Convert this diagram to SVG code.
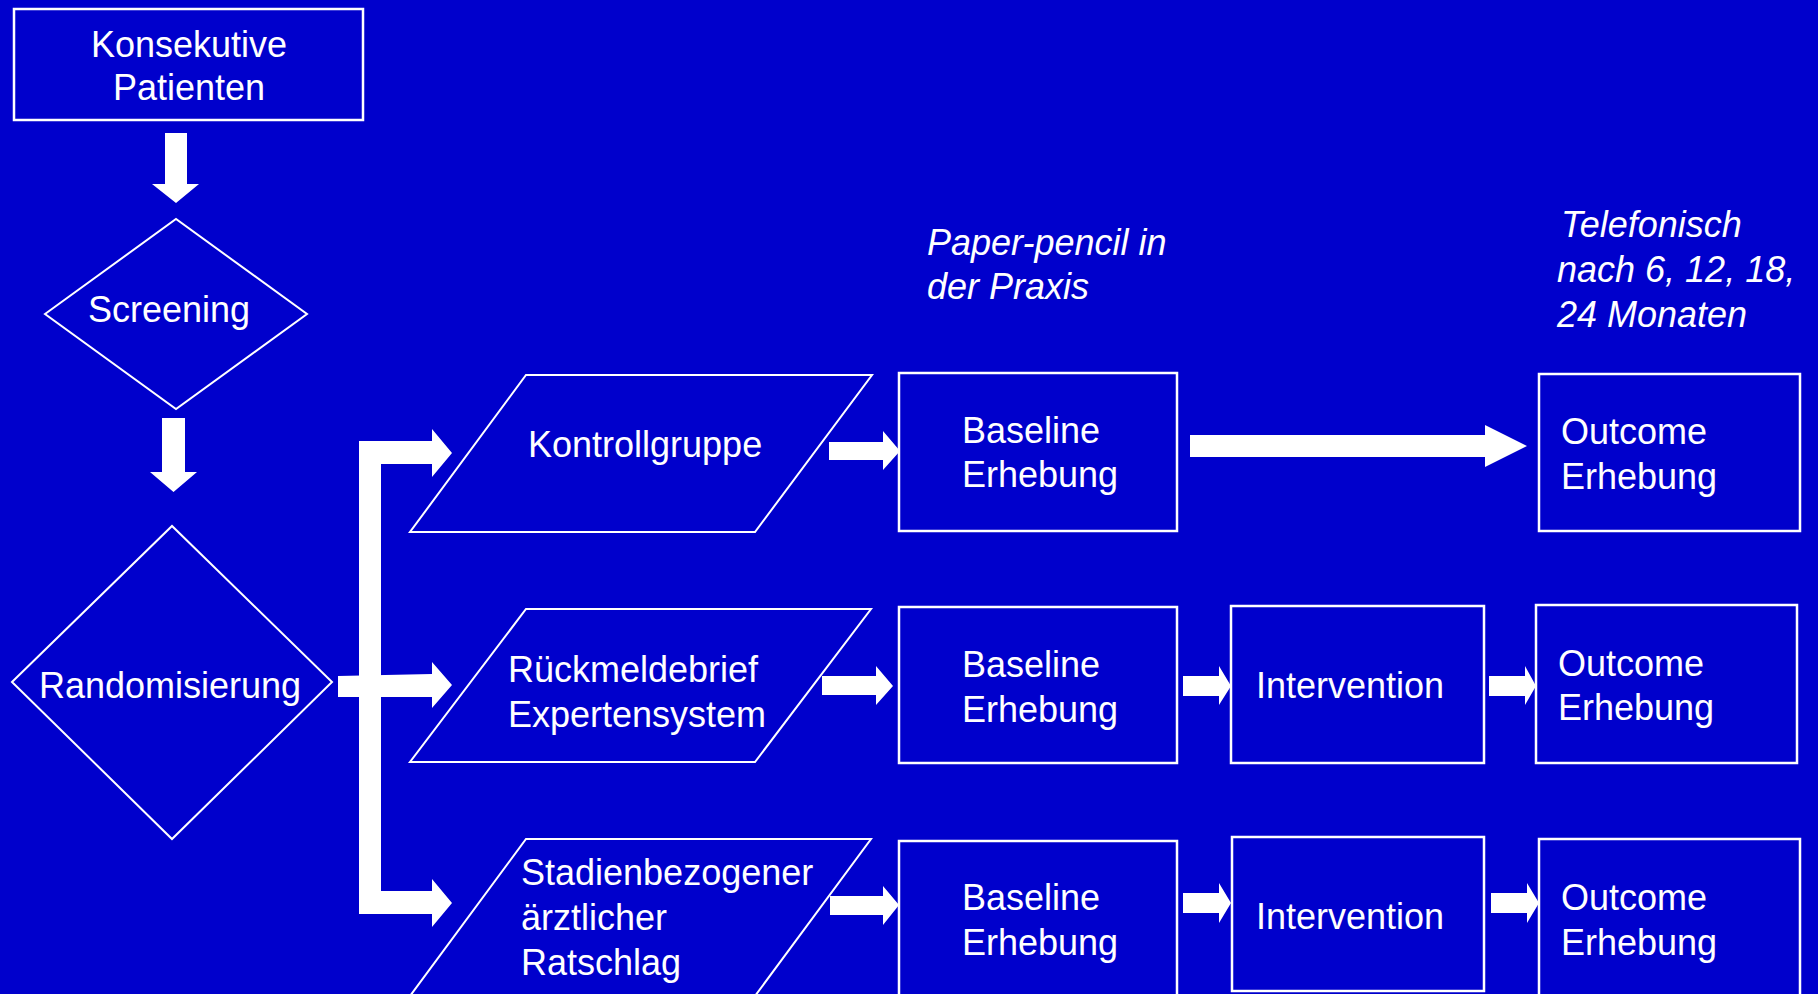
<svg xmlns="http://www.w3.org/2000/svg" width="1818" height="994" viewBox="0 0 1818 994">
<style>
.bg{fill:#0000CC}
.n{fill:none;stroke:#FFFFFF;stroke-width:2.5}
.d{fill:none;stroke:#FFFFFF;stroke-width:2}
.t{font-family:"Liberation Sans",Arial,sans-serif;font-size:36px;fill:#FFFFFF}
.c{text-anchor:middle}
.i{font-family:"Liberation Sans",Arial,sans-serif;font-size:36px;font-style:italic;fill:#FFFFFF}
.a{fill:#FFFFFF;stroke:none}
</style>
<rect class="bg" x="0" y="0" width="1818" height="994"/>
<g id="connectors">
<polygon class="a" points="165,133 187,133 187,184 199,184 176,203 152,184 165,184"/>
<polygon class="a" points="162,418 185,418 185,472 197,472 173.5,492 150,472 162,472"/>
<rect class="a" x="359" y="441" width="22" height="473"/>
<polygon class="a" points="359,441 432,441 432,429 452,453 432,477 432,464 359,464"/>
<polygon class="a" points="338,676 432,674 432,662 452,685 432,708 432,697 338,697"/>
<polygon class="a" points="359,891 432,891 432,879 452,903 432,927 432,914 359,914"/>
<polygon class="a" points="829,442 883,442 883,431 900,451 883,470 883,460 829,460"/>
<polygon class="a" points="1190,435 1485,435 1485,425 1527,446 1485,467 1485,457 1190,457"/>
<polygon class="a" points="822,676 876,676 876,666 893,686 876,705 876,695 822,695"/>
<polygon class="a" points="1183,676 1219,676 1219,666 1231,686 1219,705 1219,696 1183,696"/>
<polygon class="a" points="1489,676 1525,676 1525,666 1536,686 1525,705 1525,696 1489,696"/>
<polygon class="a" points="830,896 883,896 883,886 899,905 883,925 883,915 830,915"/>
<polygon class="a" points="1183,893 1219,893 1219,883 1231,903 1219,923 1219,913 1183,913"/>
<polygon class="a" points="1491,893 1527,893 1527,883 1539,903 1527,923 1527,913 1491,913"/>
</g>
<g id="konsekutive">
<rect class="n" x="14" y="9" width="349" height="111"/>
<text class="t c" x="189" y="57">Konsekutive</text>
<text class="t c" x="189" y="100">Patienten</text>
</g>
<g id="screening">
<polygon class="d" points="45,314 176,219 307,314 176,409"/>
<text class="t" x="88" y="322">Screening</text>
</g>
<g id="randomisierung">
<polygon class="d" points="12,682 172,526 332,682 172,839"/>
<text class="t" x="39" y="698">Randomisierung</text>
</g>
<g id="kontrollgruppe">
<polygon class="d" points="526,375 872,375 755,532 410,532"/>
<text class="t" x="528" y="457">Kontrollgruppe</text>
</g>
<g id="rueckmeldebrief">
<polygon class="d" points="526,609 871,609 755,762 410,762"/>
<text class="t" x="508" y="682">Rückmeldebrief</text>
<text class="t" x="508" y="727">Expertensystem</text>
</g>
<g id="stadienbezogen">
<polygon class="d" points="526,839 871,839 755,996 410,996"/>
<text class="t" x="521" y="885">Stadienbezogener</text>
<text class="t" x="521" y="930">ärztlicher</text>
<text class="t" x="521" y="975">Ratschlag</text>
</g>
<g id="baseline1">
<rect class="n" x="899" y="373" width="278" height="158"/>
<text class="t" x="962" y="443">Baseline</text>
<text class="t" x="962" y="487">Erhebung</text>
</g>
<g id="baseline2">
<rect class="n" x="899" y="607" width="278" height="156"/>
<text class="t" x="962" y="677">Baseline</text>
<text class="t" x="962" y="722">Erhebung</text>
</g>
<g id="baseline3">
<rect class="n" x="899" y="841" width="278" height="158"/>
<text class="t" x="962" y="910">Baseline</text>
<text class="t" x="962" y="955">Erhebung</text>
</g>
<g id="intervention2">
<rect class="n" x="1231" y="606" width="253" height="157"/>
<text class="t" x="1256" y="698">Intervention</text>
</g>
<g id="intervention3">
<rect class="n" x="1232" y="837" width="252" height="154"/>
<text class="t" x="1256" y="929">Intervention</text>
</g>
<g id="outcome1">
<rect class="n" x="1539" y="374" width="261" height="157"/>
<text class="t" x="1561" y="444">Outcome</text>
<text class="t" x="1561" y="489">Erhebung</text>
</g>
<g id="outcome2">
<rect class="n" x="1536" y="605" width="261" height="158"/>
<text class="t" x="1558" y="676">Outcome</text>
<text class="t" x="1558" y="720">Erhebung</text>
</g>
<g id="outcome3">
<rect class="n" x="1539" y="839" width="261" height="160"/>
<text class="t" x="1561" y="910">Outcome</text>
<text class="t" x="1561" y="955">Erhebung</text>
</g>
<g id="label-paper">
<text class="i" x="927" y="255">Paper-pencil in</text>
<text class="i" x="927" y="299">der Praxis</text>
</g>
<g id="label-telefonisch">
<text class="i" x="1561" y="237">Telefonisch</text>
<text class="i" x="1557" y="282">nach 6, 12, 18,</text>
<text class="i" x="1557" y="327">24 Monaten</text>
</g>
</svg>
